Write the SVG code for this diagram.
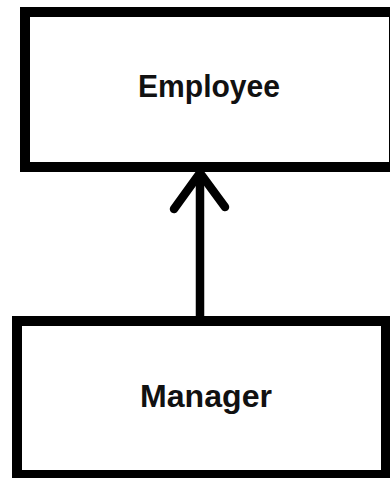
<svg xmlns="http://www.w3.org/2000/svg" width="390" height="478" viewBox="0 0 390 478">
<style>
.box{fill:#ffffff;stroke:#000000;stroke-width:10}
.lbl{font-family:"Liberation Sans",Arial,sans-serif;font-weight:bold;font-size:31px;fill:#111111}
.conn{fill:none;stroke:#000000;stroke-width:8.5;stroke-linecap:round;stroke-linejoin:round}
</style>
<rect width="390" height="478" fill="#ffffff"/>
<g id="employee">
<rect class="box" x="25" y="12" width="369" height="155"/>
<text class="lbl" x="138" y="97" textLength="142" lengthAdjust="spacingAndGlyphs">Employee</text>
</g>
<g id="manager">
<rect class="box" x="17" y="321" width="369" height="154"/>
<text class="lbl" x="140" y="407" textLength="132" lengthAdjust="spacingAndGlyphs">Manager</text>
</g>
<g id="connectors">
<line class="conn" x1="200" y1="317" x2="200" y2="174" style="stroke-linecap:butt"/>
<polyline class="conn" points="174,209 200,173 225,207"/>
</g>
</svg>
